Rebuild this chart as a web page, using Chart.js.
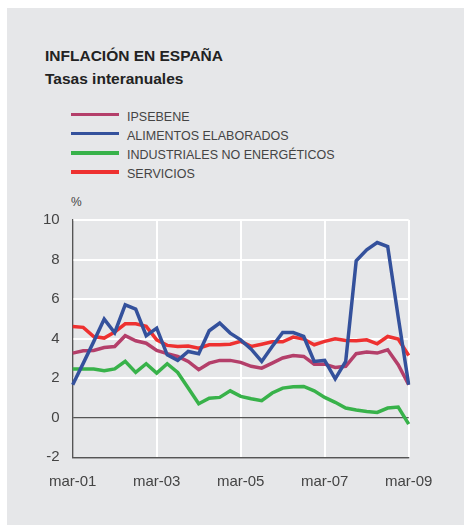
<!DOCTYPE html>
<html>
<head>
<meta charset="utf-8">
<script src="https://cdn.jsdelivr.net/npm/chart.js@4.4.1/dist/chart.umd.min.js"></script>
<style>
  body { margin: 0; width: 464px; height: 525px; background: #fff; position: relative; overflow: hidden; font-family: "Liberation Sans", Arial, sans-serif; }
  #panel { position: absolute; left: 7px; top: 8px; right: 0; bottom: 0; background: #e6e7e9; }
  .titulo { position: absolute; left: 45px; font-size: 15.5px; line-height: 15px; font-weight: bold; color: #222; white-space: nowrap; }
  .leyenda { position: absolute; left: 71px; height: 16px; }
  .leyenda span.linea { position: absolute; left: 0; top: 6px; width: 48px; height: 3.5px; }
  .leyenda span.txt { position: absolute; left: 56px; top: 3px; font-size: 12.5px; line-height: 14px; color: #444; white-space: nowrap; }
  #pct { position: absolute; left: 71px; top: 195px; font-size: 12px; color: #444; }
  #grafico { position: absolute; left: 0; top: 195px; }
</style>
</head>
<body>
<div id="panel"></div>
<div class="titulo" style="top:48px">INFLACIÓN EN ESPAÑA</div>
<div class="titulo" style="top:71px">Tasas interanuales</div>
<div id="leyenda"></div>
<div id="pct">%</div>
<canvas id="grafico" width="464" height="330"></canvas>
<script>
// DATOS (trimestrales, mar-01 a mar-09)
const trimestres = [
  "mar-01","jun-01","sep-01","dic-01",
  "mar-02","jun-02","sep-02","dic-02",
  "mar-03","jun-03","sep-03","dic-03",
  "mar-04","jun-04","sep-04","dic-04",
  "mar-05","jun-05","sep-05","dic-05",
  "mar-06","jun-06","sep-06","dic-06",
  "mar-07","jun-07","sep-07","dic-07",
  "mar-08","jun-08","sep-08","dic-08",
  "mar-09"
];
const ipsebene = [3.27,3.39,3.40,3.55,3.60,4.15,3.89,3.77,3.40,3.24,3.10,2.85,2.43,2.76,2.90,2.90,2.80,2.60,2.51,2.76,3.02,3.15,3.10,2.71,2.71,2.54,2.60,3.24,3.32,3.27,3.44,2.68,1.67];
const alimentos = [1.67,2.75,3.85,4.99,4.30,5.71,5.49,4.15,4.53,3.18,2.90,3.35,3.24,4.40,4.79,4.28,3.94,3.47,2.85,3.60,4.31,4.31,4.11,2.85,2.90,1.97,2.85,7.94,8.49,8.86,8.66,5.10,1.67];
const industriales = [2.46,2.46,2.46,2.38,2.47,2.85,2.29,2.73,2.26,2.73,2.29,1.50,0.71,0.99,1.03,1.36,1.08,0.96,0.86,1.25,1.50,1.57,1.58,1.36,1.03,0.78,0.49,0.39,0.32,0.27,0.49,0.54,-0.32];
const servicios = [4.62,4.57,4.11,4.03,4.33,4.75,4.75,4.62,3.94,3.66,3.60,3.63,3.52,3.69,3.69,3.72,3.86,3.61,3.72,3.84,3.84,4.08,3.98,3.69,3.86,3.99,3.91,3.89,3.94,3.74,4.11,3.98,3.15];
const ticksY = [-2, 0, 2, 4, 6, 8, 10];

const series = [
  { nombre: "IPSEBENE", datos: ipsebene, color: "#b43f6a", orden: 3 },
  { nombre: "ALIMENTOS ELABORADOS", datos: alimentos, color: "#34519c", orden: 1 },
  { nombre: "INDUSTRIALES NO ENERGÉTICOS", datos: industriales, color: "#38b24a", orden: 4 },
  { nombre: "SERVICIOS", datos: servicios, color: "#ee3130", orden: 2 }
];

// LEYENDA
let html = "";
series.forEach((s, i) => {
  html += `<div class="leyenda" style="top:${106.5 + i * 19.3}px">
    <span class="linea" style="background:${s.color}"></span>
    <span class="txt">${s.nombre}</span>
  </div>`;
});
document.getElementById("leyenda").innerHTML = html;

// GRAFICO
const oscuro = "#555";
new Chart(document.getElementById("grafico").getContext("2d"), {
  type: "line",
  data: {
    labels: trimestres,
    datasets: series.map(s => ({
      label: s.nombre,
      data: s.datos,
      borderColor: s.color,
      borderWidth: 3.5,
      pointRadius: 0,
      tension: 0,
      fill: false,
      order: s.orden
    }))
  },
  options: {
    responsive: false,
    animation: false,
    layout: { padding: { left: 0, right: 55.3, top: 25, bottom: 0 } },
    plugins: { legend: { display: false }, tooltip: { enabled: false } },
    scales: {
      x: {
        type: "category",
        offset: false,
        afterFit: function(scale) { scale.height = 67.7; },
        grid: {
          drawTicks: false,
          color: ctx => ctx.index === 0 ? oscuro : "#ffffff",
          lineWidth: ctx => ctx.index === 0 ? 1.2 : 2
        },
        border: { display: true, color: oscuro, width: 1.2 },
        ticks: {
          autoSkip: false,
          maxRotation: 0,
          padding: 16,
          color: "#444",
          font: { family: "'Liberation Sans', Arial, sans-serif", size: 15 },
          callback: function(value, index) {
            return index % 8 === 0 ? this.getLabelForValue(value) : null;
          }
        }
      },
      y: {
        min: -2,
        max: 10,
        afterFit: function(scale) { scale.width = 72.7; },
        afterBuildTicks: function(scale) { scale.ticks = ticksY.map(v => ({ value: v })); },
        grid: {
          drawTicks: false,
          color: ctx => (ctx.tick && ctx.tick.value <= 0) ? oscuro : "#ffffff",
          lineWidth: ctx => (ctx.tick && ctx.tick.value <= 0) ? 1.2 : 2
        },
        border: { display: true, color: oscuro, width: 1.2 },
        ticks: {
          padding: 13,
          color: "#444",
          font: { family: "'Liberation Sans', Arial, sans-serif", size: 15 }
        }
      }
    }
  }
});
</script>
</body>
</html>
